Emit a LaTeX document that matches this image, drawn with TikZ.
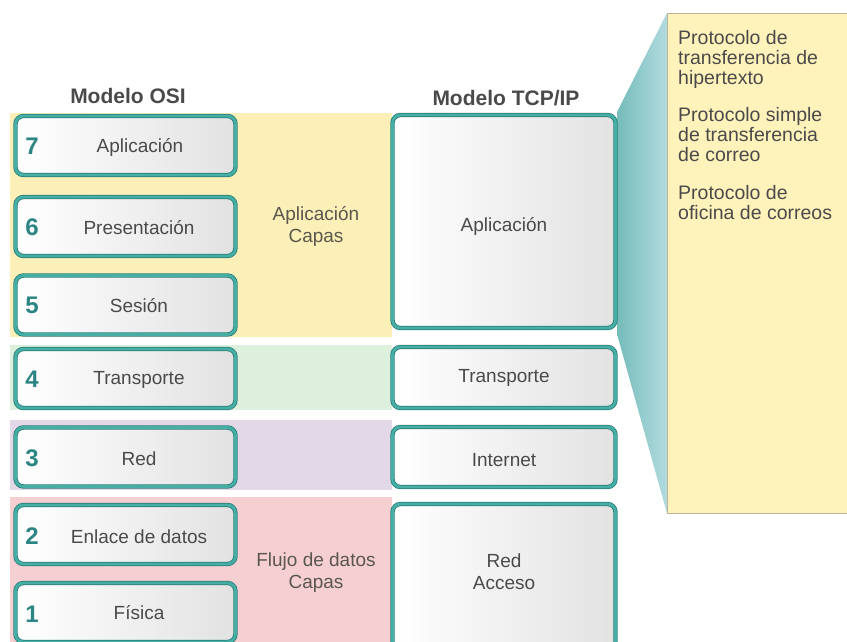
\documentclass[tikz,border=0pt]{standalone}
\usepackage{fontspec}
\setmainfont{Liberation Sans}
\definecolor{bandyellow}{HTML}{FCF0B8}
\definecolor{bandgreen}{HTML}{DDEFDD}
\definecolor{bandpurple}{HTML}{E2D8E8}
\definecolor{bandpink}{HTML}{F6CFD2}
\definecolor{tealmain}{HTML}{45AEA5}
\definecolor{tealdark}{HTML}{2A7C78}
\definecolor{boxgray}{HTML}{E2E2E2}
\definecolor{txt}{HTML}{4A4A4A}
\definecolor{midtxt}{HTML}{5A574C}
\definecolor{numteal}{HTML}{2B8583}
\definecolor{callfill}{HTML}{FFF2BA}
\definecolor{callline}{HTML}{BDB597}
\definecolor{trapleft}{HTML}{74BCBA}
\definecolor{trapright}{HTML}{B3DBDF}
\tikzset{
  layerbox/.style={rectangle, rounded corners=8pt, draw=tealdark, line width=0.8pt,
    double=tealmain, double distance=2.8pt, left color=white, right color=boxgray,
    inner sep=0pt},
  osibox/.style={layerbox, minimum width=220pt, minimum height=59pt},
  tcpbox/.style={layerbox, minimum width=223pt},
  lbl/.style={text=txt, font=\fontsize{19}{22}\selectfont, align=center, inner sep=0pt},
  midlbl/.style={text=midtxt, font=\fontsize{19}{22}\selectfont, align=center, inner sep=0pt},
  num/.style={text=numteal, font=\bfseries\fontsize{24}{28}\selectfont, inner sep=0pt},
  title/.style={text=txt, font=\bfseries\fontsize{21}{24}\selectfont, inner sep=0pt},
  calltext/.style={text=txt, font=\fontsize{19.5}{20}\selectfont, align=left, inner sep=0pt, anchor=north west}
}
\begin{document}
\begin{tikzpicture}[x=1pt,y=-1pt]
\useasboundingbox (0,0) rectangle (847,642);
\clip (0,0) rectangle (847,642);
% background bands
\fill[bandyellow] (10,113) rectangle (392,337);
\fill[bandgreen] (10,345) rectangle (392,410);
\fill[bandpurple] (10,420) rectangle (392,490);
\fill[bandpink] (10,497) rectangle (392,660);

% titles
\node[title] (tosi) at (128,96) {Modelo OSI};
\node[title] (ttcp) at (506,98) {Modelo TCP/IP};

% callout and its connecting wedge
\node[rectangle, fill=callfill, minimum width=200pt, minimum height=500pt,
  anchor=north west, inner sep=0pt] (call) at (667,13) {};
\coordinate (wtop) at (617,112);
\coordinate (wbot) at (617,334);
\shade[left color=trapleft, right color=trapright]
  (wtop) -- (call.north west) -- (call.south west) -- (wbot) -- cycle;
\draw[callline, line width=0.8pt] ([xshift=200pt]call.north west) -- (call.north west)
  -- (call.south west) -- ++(200,0);

% OSI boxes
\node[osibox] (o7) at (125.5,145.5) {};
\node[osibox] (o6) at (125.5,226.5) {};
\node[osibox] (o5) at (125.5,305) {};
\node[osibox] (o4) at (125.5,378.5) {};
\node[osibox] (o3) at (125.5,457) {};
\node[osibox] (o2) at (125.5,534.5) {};
\node[osibox] (o1) at (125.5,612.5) {};

\node[num] (n7) at (32,146) {7};
\node[num] (n6) at (32,227) {6};
\node[num] (n5) at (32,305) {5};
\node[num] (n4) at (32,379) {4};
\node[num] (n3) at (32,458) {3};
\node[num] (n2) at (32,536) {2};
\node[num] (n1) at (32,614) {1};

\node[lbl] (l7) at (140,147) {Aplicación};
\node[lbl] (l6) at (139,228) {Presentación};
\node[lbl] (l5) at (139,306) {Sesión};
\node[lbl] (l4) at (139,380) {Transporte};
\node[lbl] (l3) at (139,459) {Red};
\node[lbl] (l2) at (139,537) {Enlace de datos};
\node[lbl] (l1) at (139,613) {Física};

% middle labels
\node[midlbl] (mapp) at (316,226) {Aplicación\\Capas};
\node[midlbl] (mflow) at (316,573) {Flujo de datos\\Capas};

% TCP/IP boxes
\node[tcpbox, minimum height=213pt] (tapp) at (504,221.5) {};
\node[tcpbox, minimum height=61pt] (ttr) at (504,377.5) {};
\node[tcpbox, minimum height=60pt] (tint) at (504,457) {};
\node[tcpbox, minimum height=154pt] (tred) at (504,581) {};

\node[lbl] (la) at (504,226) {Aplicación};
\node[lbl] (lt) at (504,378) {Transporte};
\node[lbl] (li) at (504,460) {Internet};
\node[lbl] (lr) at (504,572) {Red\\Acceso};

% callout text
\node[calltext] (p1) at (678,30) {Protocolo de\\transferencia de\\hipertexto};
\node[calltext] (p2) at (678,107) {Protocolo simple\\de transferencia\\de correo};
\node[calltext] (p3) at (678,185) {Protocolo de\\oficina de correos};
\end{tikzpicture}
\end{document}
